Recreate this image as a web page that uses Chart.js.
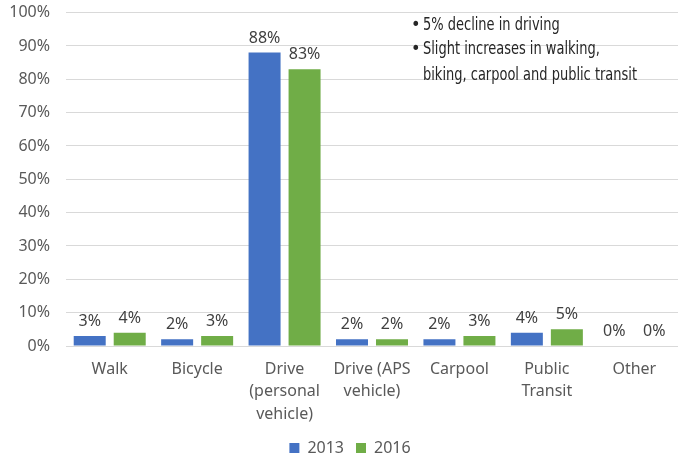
<!DOCTYPE html>
<html>
<head>
<meta charset="utf-8">
<script src="https://cdn.jsdelivr.net/npm/chart.js@4/dist/chart.umd.min.js"></script>
<style>
  html, body { margin: 0; padding: 0; background: #fff; }
  #wrap { width: 678px; height: 456px; }
</style>
</head>
<body>
<div id="wrap"><canvas id="MyChart"></canvas></div>
<script>
const categories = ["Walk", "Bicycle", ["Drive", "(personal", "vehicle)"], ["Drive (APS", "vehicle)"], "Carpool", ["Public", "Transit"], "Other"];
const values_2013 = [3, 2, 88, 2, 2, 4, 0];
const values_2016 = [4, 3, 83, 2, 3, 5, 0];
const notes = ["5% decline in driving", "Slight increases in walking,", "biking, carpool and public transit"];

const FONT = "'Noto Sans', 'Open Sans', sans-serif";
const TEXT_COLOR = "#595959";

// подписи над столбцами
const barLabels = {
  id: "barLabels",
  afterDatasetsDraw(chart) {
    const ctx = chart.ctx;
    ctx.save();
    ctx.font = "16px " + FONT;
    ctx.fillStyle = "#404040";
    ctx.textAlign = "center";
    ctx.textBaseline = "alphabetic";
    chart.data.datasets.forEach((ds, i) => {
      chart.getDatasetMeta(i).data.forEach((bar, j) => {
        ctx.fillText(ds.data[j] + "%", bar.x, bar.y - 10);
      });
    });
    ctx.restore();
  }
};

// текст-примечание справа сверху (узкий шрифт, сжимаем по ширине)
const noteText = {
  id: "noteText",
  afterDraw(chart) {
    const ctx = chart.ctx;
    const area = chart.chartArea;
    ctx.save();
    ctx.font = "18px 'DejaVu Sans Condensed', 'Liberation Sans Narrow', sans-serif";
    ctx.fillStyle = "#262626";
    ctx.textBaseline = "middle";
    const sx = 214 / ctx.measureText(notes[2]).width;
    const x = area.left + 357;
    const ys = [area.top + 13, area.top + 37, area.top + 63];
    ctx.fillText("•", x - 12, ys[0]);
    ctx.fillText("•", x - 12, ys[1]);
    notes.forEach((t, i) => {
      ctx.fillText(t, x, ys[i], ctx.measureText(t).width * sx);
    });
    ctx.restore();
  }
};

// легенда: ниже по высоте и чуть правее центра, как в оригинале
const legendFit = {
  id: "legendFit",
  afterInit(chart) {
    const lg = chart.legend;
    if (!lg) return;
    const origFit = lg.fit;
    lg.fit = function () {
      origFit.call(this);
      this.height -= 10;
    };
    const origDraw = lg.draw;
    lg.draw = function () {
      this.ctx.save();
      this.ctx.translate(11, 0);
      origDraw.call(this);
      this.ctx.restore();
    };
  }
};

new Chart(document.getElementById("MyChart"), {
  type: "bar",
  data: {
    labels: categories,
    datasets: [
      { label: "2013", data: values_2013, backgroundColor: "#4472C4", barPercentage: 0.8, categoryPercentage: 0.915 },
      { label: "2016", data: values_2016, backgroundColor: "#70AD47", barPercentage: 0.8, categoryPercentage: 0.915 }
    ]
  },
  options: {
    responsive: true,
    maintainAspectRatio: false,
    animation: false,
    layout: { padding: { top: 0, right: 0, left: 0, bottom: 0 } },
    plugins: {
      legend: {
        position: "bottom",
        labels: { font: { family: FONT, size: 16 }, color: TEXT_COLOR, boxWidth: 10, boxHeight: 10, padding: 12 }
      },
      tooltip: { enabled: false }
    },
    scales: {
      x: {
        grid: { display: false },
        border: { color: "#d9d9d9" },
        ticks: { font: { family: FONT, size: 16, lineHeight: 1.4 }, color: TEXT_COLOR, maxRotation: 0, autoSkip: false, padding: 4 },
        afterFit(scale) { scale.height = 82; }
      },
      y: {
        min: 0,
        max: 100,
        grid: { color: "#d9d9d9", drawTicks: true, tickLength: 13, tickColor: "transparent" },
        border: { display: false },
        ticks: { stepSize: 10, font: { family: FONT, size: 16 }, color: TEXT_COLOR, padding: 3, callback: v => v + "%" },
        afterFit(scale) { scale.width = 66; }
      }
    }
  },
  plugins: [barLabels, noteText, legendFit]
});
</script>
</body>
</html>
